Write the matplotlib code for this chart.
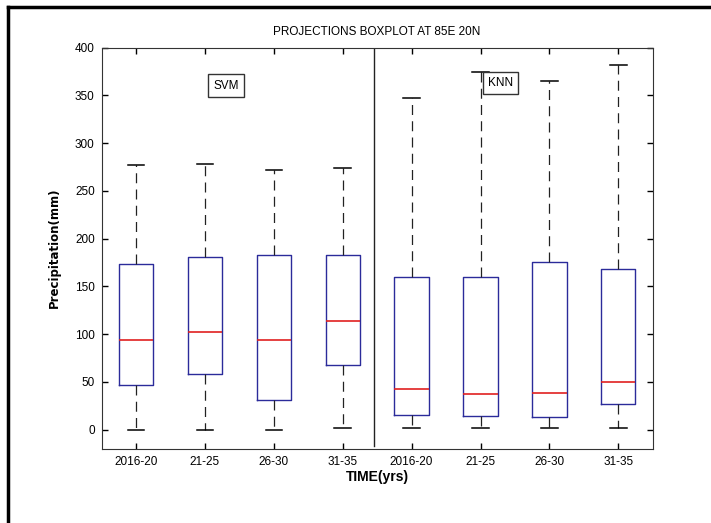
import matplotlib.pyplot as plt
from matplotlib.lines import Line2D

# data (mm)
labels = ["2016-20", "21-25", "26-30", "31-35", "2016-20", "21-25", "26-30", "31-35"]
whislo = [0, 0, 0, 1.5, 1.5, 1.5, 1.5, 1.5]
q1 = [47, 58, 31, 68, 15, 14, 13, 26.5]
med = [93.5, 102, 93.5, 114, 42.5, 37.5, 38.5, 50]
q3 = [173.5, 181, 183, 183, 160, 160, 176, 168]
whishi = [277, 278, 272, 274, 347, 374, 365, 382]

narrow = ["Liberation Sans Narrow", "Liberation Sans", "DejaVu Sans"]

stats = []
for i in range(len(labels)):
    stats.append(dict(label=labels[i], whislo=whislo[i], q1=q1[i], med=med[i],
                      q3=q3[i], whishi=whishi[i], fliers=[]))

fig = plt.figure(figsize=(7.11, 5.23), dpi=100)
ax = fig.add_axes([0.143, 0.142, 0.775, 0.767])

ax.bxp(stats, positions=range(1, 9), widths=0.5, showfliers=False,
       boxprops=dict(color="#2b2b9a", linewidth=1),
       medianprops=dict(color="#e02020", linewidth=1.2),
       whiskerprops=dict(color="#222222", linewidth=0.9, linestyle=(0, (8, 5))),
       capprops=dict(color="black", linewidth=1.1), capwidths=0.24)

ax.set_xlim(0.5, 8.5)
ax.set_ylim(-20, 400)
ax.set_yticks(range(0, 401, 50))
ax.set_xticks(range(1, 9))
ax.set_xticklabels(labels)
ax.tick_params(direction="in", top=True, right=True, length=4, width=1,
               labelsize=8.5, pad=5)
for t in ax.get_xticklabels() + ax.get_yticklabels():
    t.set_family(narrow)
for s in ax.spines.values():
    s.set_color("#333333")

# separator between SVM and KNN
ax.axvline(4.45, ymin=0.008, ymax=1.0, color="#222222", linewidth=1)

ax.text(2.31, 360, "SVM", ha="center", va="center", fontsize=8.5, family=narrow,
        bbox=dict(boxstyle="square,pad=0.45", fc="white", ec="#333333", lw=1))
ax.text(6.29, 363, "KNN", ha="center", va="center", fontsize=8.5, family=narrow,
        bbox=dict(boxstyle="square,pad=0.45", fc="white", ec="#333333", lw=1))

ax.set_title("PROJECTIONS BOXPLOT AT 85E 20N", fontsize=8.5, family=narrow, pad=9)
ax.set_xlabel("TIME(yrs)", fontsize=10, fontweight="bold", family=narrow, labelpad=2)
ax.set_ylabel("Precipitation(mm)", fontsize=8.5, fontweight="bold",
              family="DejaVu Sans", labelpad=10)

# frame around the figure (left and top only visible)
fig.add_artist(Line2D([0.011, 0.011], [0.0, 0.987], color="black", linewidth=2.5,
                      transform=fig.transFigure))
fig.add_artist(Line2D([0.011, 1.0], [0.987, 0.987], color="black", linewidth=2.5,
                      transform=fig.transFigure))

fig.savefig("out.png", dpi=100)
